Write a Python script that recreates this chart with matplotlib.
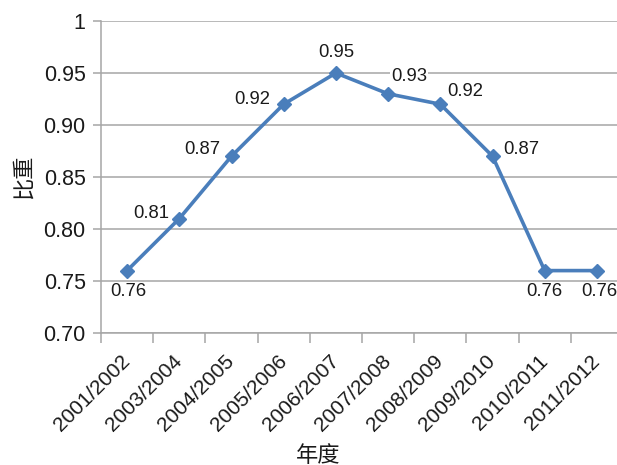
import matplotlib
matplotlib.use("Agg")
import matplotlib.pyplot as plt
from matplotlib.ticker import FixedLocator
from matplotlib.transforms import ScaledTranslation

plt.rcParams['font.family'] = ['Liberation Sans', 'Noto Sans CJK SC', 'DejaVu Sans']

seasons = ["2001/2002", "2003/2004", "2004/2005", "2005/2006", "2006/2007",
           "2007/2008", "2008/2009", "2009/2010", "2010/2011", "2011/2012"]
ratios = [0.76, 0.81, 0.87, 0.92, 0.95, 0.93, 0.92, 0.87, 0.76, 0.76]
y_ticks = [0.70, 0.75, 0.80, 0.85, 0.90, 0.95, 1.00]
y_tick_labels = ["0.70", "0.75", "0.80", "0.85", "0.90", "0.95", "1"]

# label offsets (pixels) for each data label
label_offsets = [(1, -21), (-28, 5), (-29, 7), (-32, 5), (0, 21),
                 (21, 17), (25, 13), (29, 7), (0, -21), (2, -21)]

W, H = 617, 465
fig = plt.figure(figsize=(W / 100, H / 100), dpi=100)
ax = fig.add_axes([101 / W, 1 - 333 / H, 522 / W, 312 / H])

x = list(range(len(seasons)))
line_color = "#4A7EBB"
ax.plot(x, ratios, color=line_color, lw=2.6, marker="D", markersize=7.5,
        markeredgecolor=line_color, markerfacecolor=line_color, zorder=3,
        clip_on=False)

for xi, v, (dx, dy) in zip(x, ratios, label_offsets):
    ax.annotate(f"{v:.2f}", (xi, v), xytext=(dx, dy), textcoords="offset pixels",
                ha="center", va="center", fontsize=13.3, color="#1a1a1a",
                bbox=dict(boxstyle="square,pad=0.05", fc="white", ec="none"),
                zorder=4)

ax.set_xlim(-0.5, len(seasons) - 0.5)
ax.set_ylim(0.70, 1.00)

ax.set_yticks(y_ticks)
ax.set_yticklabels(y_tick_labels, fontsize=15.5, color="#1a1a1a")
ax.yaxis.grid(True, color="#A6A6A6", lw=1.1)
ax.set_axisbelow(True)

ax.set_xticks(x)
ax.set_xticklabels(seasons, rotation=45, ha="right", va="center",
                   rotation_mode="anchor", fontsize=15, color="#1a1a1a")
shift = ScaledTranslation(4 / 100, 0, fig.dpi_scale_trans)
for lbl in ax.get_xticklabels():
    lbl.set_transform(lbl.get_transform() + shift)
ax.xaxis.set_minor_locator(FixedLocator([i - 0.5 for i in range(len(seasons) + 1)]))
ax.tick_params(axis="x", which="major", length=0, pad=18)
ax.tick_params(axis="x", which="minor", length=7, color="#A6A6A6", width=1.1)
ax.tick_params(axis="y", length=6, color="#A6A6A6", width=1.1, pad=5)

for side in ("top", "right"):
    ax.spines[side].set_visible(False)
for side in ("left", "bottom"):
    ax.spines[side].set_color("#A6A6A6")
    ax.spines[side].set_linewidth(1.1)

fig.text(23 / W, 1 - 177 / H, "比重", rotation=90, ha="center", va="center",
         fontsize=16, family=["Noto Sans CJK SC", "DejaVu Sans"], color="#1a1a1a")
fig.text(318 / W, 1 - 455 / H, "年度", ha="center", va="center",
         fontsize=16, family=["Noto Sans CJK SC", "DejaVu Sans"], color="#1a1a1a")

fig.savefig("out.png", dpi=100)
